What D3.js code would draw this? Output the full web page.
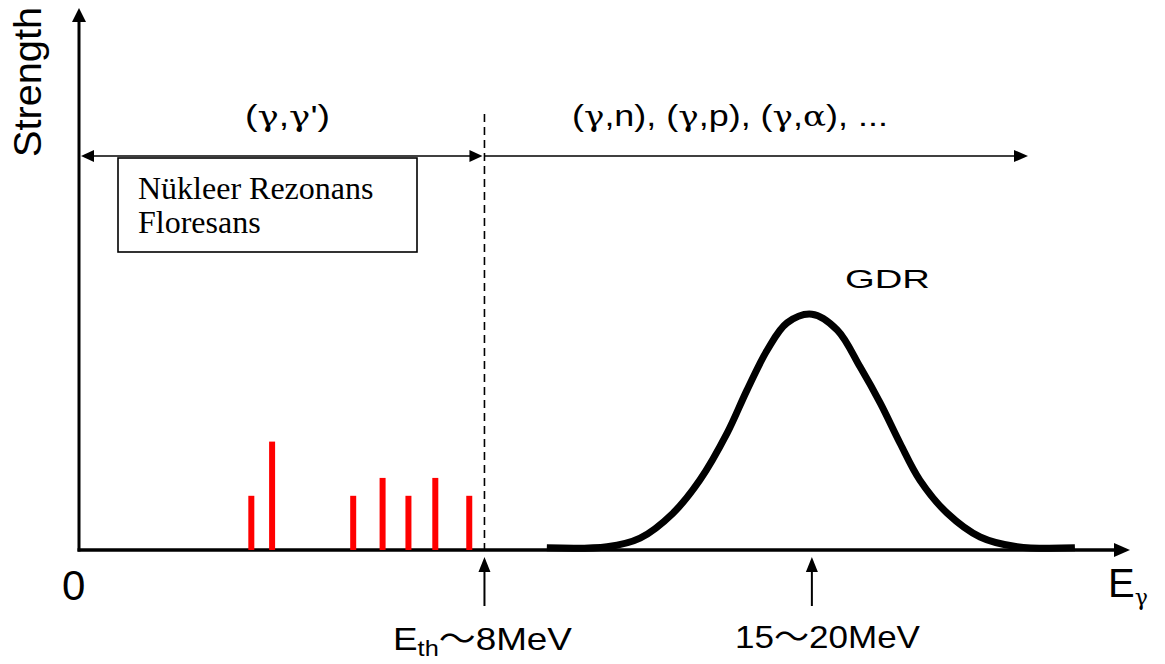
<html>
<head>
  <title>Strength vs E gamma</title>
  <script src='https://d3js.org/d3.v7.min.js'></script>
  <style>
    body { margin: 0; background: #fff; }
    text { font-family: "Liberation Sans", Arial, "Noto Sans CJK JP", sans-serif; fill: #000; }
    .gr { font-family: "DejaVu Serif", serif; }
  </style>
</head>
<body>
  <script>
var width = 1165,
    height = 664;

// red resonance lines below threshold (MeV, strength)
var lineEnergies = [3.40, 3.81, 5.41, 5.99, 6.50, 7.03, 7.70];
var lineStrengths = [1.0, 2.0, 1.0, 1.33, 1.0, 1.33, 1.0];

// GDR curve
var gdrEnergies = [9.23, 10.42, 11.07, 11.72, 12.25, 12.79, 13.18, 13.58, 13.97, 14.46,
                   14.96, 15.41, 15.81, 16.20, 16.59, 17.13, 17.78, 18.51, 19.65];
var gdrStrengths = [0.04, 0.06, 0.22, 0.68, 1.29, 2.16, 2.95, 3.69, 4.19, 4.35,
                    4.06, 3.38, 2.71, 1.97, 1.29, 0.68, 0.24, 0.06, 0.04];

var threshold = 8;        // E_th
var gdrPeak = 14.46;

var svg = d3.select('body')
  .append('svg')
  .attr('width', width)
  .attr('height', height);

var x = d3.scaleLinear().domain([0, 20.5]).range([79, 1118]);
var y = d3.scaleLinear().domain([0, 10]).range([550, 8]);

function arrowHead(tx, ty, dir, len, half) {
  var pts;
  if (dir === 'up') pts = [[tx, ty], [tx - half, ty + len], [tx + half, ty + len]];
  if (dir === 'left') pts = [[tx, ty], [tx + len, ty - half], [tx + len, ty + half]];
  if (dir === 'right') pts = [[tx, ty], [tx - len, ty - half], [tx - len, ty + half]];
  svg.append('path').attr('d', 'M' + pts.join('L') + 'Z').attr('fill', 'black');
}

// axes
svg.append('line')
  .attr('x1', x(0)).attr('y1', y(0) + 1.5)
  .attr('x2', x(0)).attr('y2', 20)
  .attr('stroke', 'black').style('stroke-width', 3);
arrowHead(x(0), 8, 'up', 14, 7);

svg.append('line')
  .attr('x1', x(0) - 1.5).attr('y1', y(0))
  .attr('x2', 1118).attr('y2', y(0))
  .attr('stroke', 'black').style('stroke-width', 3.5);
arrowHead(1130, y(0), 'right', 16, 7);

// red lines
svg.append('g').selectAll('rect')
  .data(lineEnergies)
  .enter()
  .append('rect')
  .attr('x', d => x(d) - 3)
  .attr('y', (d, i) => y(lineStrengths[i]))
  .attr('width', 6)
  .attr('height', (d, i) => y(0) - y(lineStrengths[i]))
  .attr('fill', '#ff0000');

// GDR curve
var gdr = gdrEnergies.map((e, i) => [e, gdrStrengths[i]]);
svg.append('path')
  .datum(gdr)
  .attr('d', d3.line().x(d => x(d[0])).y(d => y(d[1])).curve(d3.curveCatmullRom.alpha(0.5)))
  .attr('fill', 'none')
  .attr('stroke', 'black')
  .style('stroke-width', 7)
  .style('stroke-linejoin', 'round');

// threshold dashed line
svg.append('line')
  .attr('x1', x(threshold)).attr('y1', 114)
  .attr('x2', x(threshold)).attr('y2', y(0))
  .attr('stroke', 'black')
  .attr('stroke-dasharray', '8 5')
  .style('stroke-width', 1.6);

// range arrows
var ay = 156;
svg.append('line').attr('x1', 90).attr('y1', ay).attr('x2', x(threshold) - 10).attr('y2', ay)
  .attr('stroke', 'black').style('stroke-width', 1.6);
arrowHead(81, ay, 'left', 13, 6);
arrowHead(x(threshold) - 2, ay, 'right', 13, 6);
svg.append('line').attr('x1', x(threshold)).attr('y1', ay).attr('x2', 1015).attr('y2', ay)
  .attr('stroke', 'black').style('stroke-width', 1.6);
arrowHead(1028, ay, 'right', 14, 6);

// box
svg.append('rect')
  .attr('x', 118).attr('y', 158).attr('width', 299).attr('height', 94)
  .attr('fill', 'white').attr('stroke', 'black').style('stroke-width', 1.6);
svg.append('text').attr('x', 138).attr('y', 199)
  .style('font-family', '"Liberation Serif", "Times New Roman", serif').style('font-size', '32px')
  .text('Nükleer Rezonans');
svg.append('text').attr('x', 138).attr('y', 233)
  .style('font-family', '"Liberation Serif", "Times New Roman", serif').style('font-size', '32px')
  .text('Floresans');

// text with greek letters set in a serif face
function label(tx, ty, parts, size, len) {
  var t = svg.append('text').attr('x', tx).attr('y', ty).style('font-size', size + 'px');
  parts.forEach(function(p) {
    var s = t.append('tspan').text(p);
    if (/[γα]/.test(p)) s.attr('class', 'gr').style('font-size', (size * 0.95) + 'px');
  });
  if (len) t.attr('textLength', len).attr('lengthAdjust', 'spacingAndGlyphs');
  return t;
}

label(245, 126, ['(', 'γ', ',', 'γ', "')"], 30, 85);
label(572, 126, ['(', 'γ', ',n), (', 'γ', ',p), (', 'γ', ',', 'α', '), ...'], 30, 316);
label(845, 288, ['GDR'], 26, 85);

// y label
svg.append('text')
  .attr('transform', 'translate(41,157) rotate(-90)')
  .style('font-size', '38px')
  .attr('textLength', 150).attr('lengthAdjust', 'spacingAndGlyphs')
  .text('Strength');

// x labels
label(62, 600, ['0'], 42);
var eg = svg.append('text').attr('x', 1108).attr('y', 597).style('font-size', '40px');
eg.append('tspan').text('E');
eg.append('tspan').attr('class', 'gr').attr('dy', 8).style('font-size', '22px').text('γ');

// markers under the axis
[threshold, gdrPeak].forEach(function(e) {
  svg.append('line').attr('x1', x(e)).attr('y1', 570).attr('x2', x(e)).attr('y2', 606)
    .attr('stroke', 'black').style('stroke-width', 2);
  arrowHead(x(e), 557, 'up', 15, 6);
});

var eth = svg.append('text').attr('x', 393).attr('y', 650).style('font-size', '32px')
  .attr('textLength', 179).attr('lengthAdjust', 'spacingAndGlyphs');
eth.append('tspan').text('E');
eth.append('tspan').attr('dy', 6).style('font-size', '22px').text('th');
eth.append('tspan').attr('dy', -6).text('～8MeV');

label(735, 648, ['15～20MeV'], 32, 185);
  </script>
</body>
</html>
